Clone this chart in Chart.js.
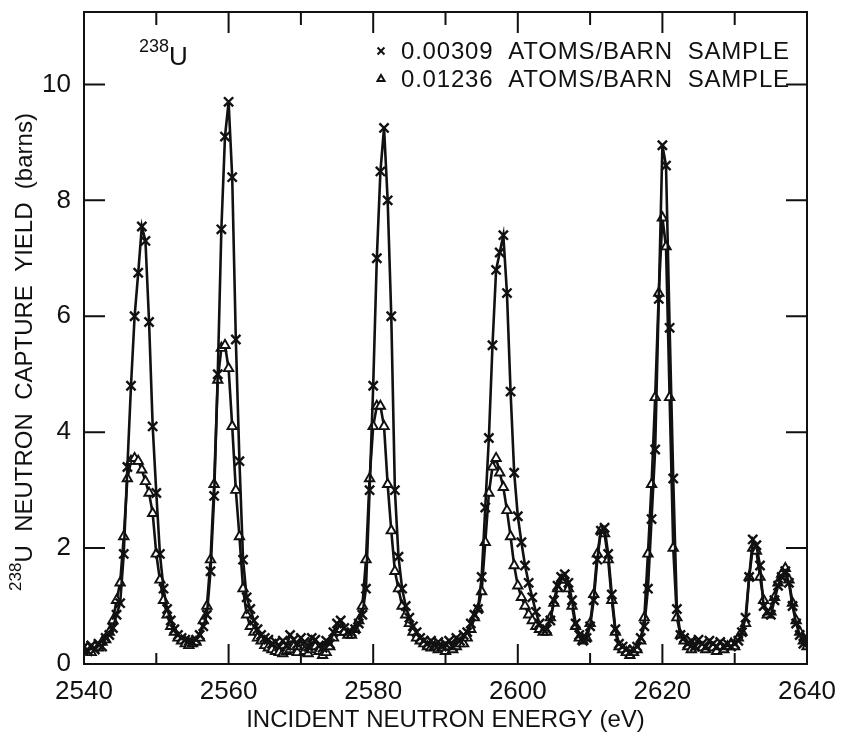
<!DOCTYPE html>
<html><head><meta charset="utf-8">
<script src="https://cdn.jsdelivr.net/npm/chart.js@4/dist/chart.umd.min.js"></script>
<style>html,body{margin:0;padding:0;background:#fff}canvas{display:block}</style>
</head><body>
<canvas id="c" width="841" height="735"></canvas>
<script>
// ---- data ----
const energies = [
2540,2540.5,2541,2541.5,2542,2542.5,2543,2543.5,2544,2544.5,2545,2545.5,2546,2546.5,2547,2547.5,2548,2548.5,2549,2549.5,
2550,2550.5,2551,2551.5,2552,2552.5,2553,2553.5,2554,2554.5,2555,2555.5,2556,2556.5,2557,2557.5,2558,2558.5,2559,2559.5,
2560,2560.5,2561,2561.5,2562,2562.5,2563,2563.5,2564,2564.5,2565,2565.5,2566,2566.5,2567,2567.5,2568,2568.5,2569,2569.5,
2570,2570.5,2571,2571.5,2572,2572.5,2573,2573.5,2574,2574.5,2575,2575.5,2576,2576.5,2577,2577.5,2578,2578.5,2579,2579.5,
2580,2580.5,2581,2581.5,2582,2582.5,2583,2583.5,2584,2584.5,2585,2585.5,2586,2586.5,2587,2587.5,2588,2588.5,2589,2589.5,
2590,2590.5,2591,2591.5,2592,2592.5,2593,2593.5,2594,2594.5,2595,2595.5,2596,2596.5,2597,2597.5,2598,2598.5,2599,2599.5,
2600,2600.5,2601,2601.5,2602,2602.5,2603,2603.5,2604,2604.5,2605,2605.5,2606,2606.5,2607,2607.5,2608,2608.5,2609,2609.5,
2610,2610.5,2611,2611.5,2612,2612.5,2613,2613.5,2614,2614.5,2615,2615.5,2616,2616.5,2617,2617.5,2618,2618.5,2619,2619.5,
2620,2620.5,2621,2621.5,2622,2622.5,2623,2623.5,2624,2624.5,2625,2625.5,2626,2626.5,2627,2627.5,2628,2628.5,2629,2629.5,
2630,2630.5,2631,2631.5,2632,2632.5,2633,2633.5,2634,2634.5,2635,2635.5,2636,2636.5,2637,2637.5,2638,2638.5,2639,2639.5,2640
];
// 0.00309 atoms/barn sample (x markers)
const thinYield = [
.30,.22,.32,.25,.35,.30,.45,.50,.62,.85,1.05,1.90,3.40,4.80,6.00,6.75,7.55,7.30,5.90,4.10,
2.95,1.90,1.30,.95,.75,.60,.50,.45,.42,.40,.38,.42,.50,.65,.85,1.60,2.90,5.00,7.50,9.10,
9.70,8.40,5.60,3.50,1.80,1.15,.95,.75,.60,.50,.45,.42,.35,.38,.30,.40,.32,.50,.42,.35,
.45,.38,.30,.45,.42,.32,.28,.40,.35,.55,.70,.75,.62,.55,.55,.60,.70,.85,1.30,3.00,
4.80,7.00,8.50,9.25,8.00,6.00,3.00,1.85,1.30,1.00,.80,.65,.55,.45,.40,.35,.40,.32,.38,.30,
.35,.40,.30,.45,.40,.50,.55,.70,.85,.95,1.50,2.70,3.90,5.50,6.80,7.10,7.40,6.40,4.70,3.30,
2.55,2.10,1.70,1.40,1.15,.90,.70,.60,.60,.75,1.10,1.35,1.50,1.55,1.40,1.10,.70,.50,.40,.45,
.65,1.10,1.80,2.30,2.35,1.90,1.20,.60,.35,.30,.25,.20,.25,.30,.45,.65,1.30,2.50,3.70,6.30,
8.95,8.60,5.80,3.20,.95,.50,.45,.35,.40,.30,.42,.35,.30,.40,.35,.30,.38,.30,.35,.30,
.35,.40,.55,.80,1.50,2.15,2.05,1.70,1.00,.90,.85,1.10,1.35,1.50,1.60,1.40,1.00,.70,.50,.35,.45
];
// 0.01236 atoms/barn sample (triangle markers)
const thickYield = [
.25,.28,.20,.30,.28,.38,.42,.55,.75,1.10,1.40,2.20,3.20,3.50,3.55,3.50,3.35,3.15,2.95,2.60,
1.90,1.45,1.10,.85,.65,.55,.45,.40,.35,.32,.35,.38,.45,.75,1.00,1.80,3.10,4.90,5.45,5.50,
5.10,4.10,3.00,2.20,1.30,.85,.65,.55,.45,.40,.32,.28,.25,.22,.20,.18,.22,.25,.30,.20,
.30,.22,.18,.25,.30,.22,.15,.20,.30,.45,.55,.60,.55,.50,.50,.60,.75,1.00,1.80,3.20,
4.10,4.45,4.45,4.10,3.10,2.30,1.60,1.30,1.00,.85,.70,.55,.45,.40,.35,.30,.28,.30,.25,.28,
.22,.30,.25,.30,.35,.35,.45,.60,.80,.95,1.25,2.10,2.95,3.40,3.55,3.30,3.05,2.65,2.20,1.70,
1.35,1.15,1.00,.85,.75,.65,.60,.55,.55,.80,1.05,1.30,1.45,1.45,1.30,1.00,.65,.45,.40,.45,
.70,1.20,1.90,2.30,2.25,1.80,1.10,.55,.30,.25,.20,.15,.20,.25,.40,.80,1.90,3.10,4.60,6.40,
7.70,7.20,4.60,2.00,.80,.50,.40,.30,.25,.35,.30,.28,.25,.30,.28,.22,.30,.25,.30,.35,
.30,.45,.55,.70,1.50,2.00,1.95,1.50,1.10,.85,.90,1.15,1.40,1.55,1.65,1.45,1.05,.75,.55,.40,.30
];
const seriesLabels = ['0.00309  ATOMS/BARN  SAMPLE', '0.01236  ATOMS/BARN  SAMPLE'];
const xMajorTicks = [2540, 2560, 2580, 2600, 2620, 2640];
const xMinorTicks = [2550, 2570, 2590, 2610, 2630];
const yMajorTicks = [0, 2, 4, 6, 8, 10];
const xTitle = 'INCIDENT NEUTRON ENERGY (eV)';
const yTitleParts = ['238', 'U  NEUTRON  CAPTURE  YIELD  (barns)'];
const isotopeParts = ['238', 'U'];

// ---- chart ----
const FONT = '"Liberation Sans", Arial, sans-serif';
const INK = '#111';
Chart.defaults.font.family = FONT;
Chart.defaults.color = INK;

const toPoints = ys => energies.map((e, i) => ({ x: e, y: ys[i] }));

const markerStyles = [
  { pointStyle: 'crossRot', radius: 6.5, borderWidth: 2.4, fill: INK },
  { pointStyle: 'triangle', radius: 5.4, borderWidth: 1.9, fill: '#fff' }
];

const decorPlugin = {
  id: 'decor',
  afterDraw(chart) {
    const { ctx, chartArea: a, scales: { x, y } } = chart;
    ctx.save();
    ctx.strokeStyle = INK;
    ctx.lineWidth = 2;
    ctx.strokeRect(a.left, a.top, a.right - a.left, a.bottom - a.top);
    ctx.beginPath();
    xMajorTicks.forEach(v => {
      const px = x.getPixelForValue(v);
      ctx.moveTo(px, a.bottom); ctx.lineTo(px, a.bottom - 20);
      ctx.moveTo(px, a.top); ctx.lineTo(px, a.top + 21);
    });
    xMinorTicks.forEach(v => {
      const px = x.getPixelForValue(v);
      ctx.moveTo(px, a.bottom); ctx.lineTo(px, a.bottom - 11);
      ctx.moveTo(px, a.top); ctx.lineTo(px, a.top + 13);
    });
    yMajorTicks.forEach(v => {
      const py = y.getPixelForValue(v);
      ctx.moveTo(a.left, py); ctx.lineTo(a.left + 21, py);
      ctx.moveTo(a.right, py); ctx.lineTo(a.right - 21, py);
    });
    ctx.stroke();

    ctx.fillStyle = INK;
    ctx.textBaseline = 'alphabetic';
    ctx.textAlign = 'left';
    // isotope label
    ctx.font = '18px ' + FONT;
    ctx.fillText(isotopeParts[0], 139, 52);
    const wi = ctx.measureText(isotopeParts[0]).width;
    ctx.font = '26px ' + FONT;
    ctx.fillText(isotopeParts[1], 139 + wi, 65);

    // legend
    ctx.font = '24px ' + FONT;
    seriesLabels.forEach((lab, i) => {
      const ly = 59 + i * 28;
      const m = markerStyles[i];
      ctx.save();
      ctx.strokeStyle = INK; ctx.fillStyle = m.fill;
      Chart.helpers.drawPoint(ctx, { pointStyle: m.pointStyle, radius: m.radius * 0.75, rotation: 0, borderWidth: m.borderWidth * 0.8 }, 381, ly - 8);
      ctx.restore();
      ctx.save();
      ctx.fillStyle = INK;
      try { ctx.letterSpacing = '0.8px'; } catch (e) {}
      ctx.fillText(lab, 401, ly);
      ctx.restore();
    });

    // y axis title with superscript
    ctx.translate(32, 352);
    ctx.rotate(-Math.PI / 2);
    ctx.font = '17px ' + FONT;
    const w1 = ctx.measureText(yTitleParts[0]).width;
    ctx.font = '24px ' + FONT;
    const w2 = ctx.measureText(yTitleParts[1]).width;
    const sx = -(w1 + w2) / 2;
    ctx.font = '17px ' + FONT;
    ctx.fillText(yTitleParts[0], sx, -11);
    ctx.font = '24px ' + FONT;
    ctx.fillText(yTitleParts[1], sx + w1, 0);
    ctx.restore();
  }
};

new Chart(document.getElementById('c'), {
  type: 'line',
  data: {
    datasets: [
      {
        label: seriesLabels[0],
        data: toPoints(thinYield),
        borderColor: INK, borderWidth: 2.6, tension: 0,
        pointStyle: markerStyles[0].pointStyle, pointRadius: markerStyles[0].radius,
        pointBorderWidth: markerStyles[0].borderWidth, pointBorderColor: INK, pointBackgroundColor: INK
      },
      {
        label: seriesLabels[1],
        data: toPoints(thickYield),
        borderColor: INK, borderWidth: 2.6, tension: 0,
        pointStyle: markerStyles[1].pointStyle, pointRadius: markerStyles[1].radius,
        pointBorderWidth: markerStyles[1].borderWidth, pointBorderColor: INK, pointBackgroundColor: '#fff'
      }
    ]
  },
  options: {
    responsive: false,
    animation: false,
    devicePixelRatio: 1,
    layout: { padding: { left: 0, right: 34, top: 12, bottom: 0 } },
    plugins: { legend: { display: false }, tooltip: { enabled: false } },
    scales: {
      x: {
        type: 'linear', position: 'bottom', min: 2540, max: 2640,
        grid: { display: false, drawTicks: false }, border: { display: false },
        ticks: { stepSize: 20, padding: 12, maxRotation: 0, autoSkip: false, font: { size: 26 }, color: INK,
                 callback: v => String(v) },
        afterBuildTicks: s => { s.ticks = xMajorTicks.map(v => ({ value: v })); },
        title: { display: true, text: xTitle, font: { size: 24 }, color: INK, padding: { top: 0, bottom: 0 } },
        afterFit: s => { s.height = 71; s.paddingLeft = 0; s.paddingRight = 0; }
      },
      y: {
        type: 'linear', position: 'left', min: 0, max: 11.25,
        grid: { display: false, drawTicks: false }, border: { display: false },
        ticks: { stepSize: 2, padding: 13, includeBounds: false, font: { size: 26 }, color: INK,
                 callback: v => String(v) },
        afterBuildTicks: s => { s.ticks = yMajorTicks.map(v => ({ value: v })); },
        afterFit: s => { s.width = 84; s.paddingTop = 0; s.paddingBottom = 0; }
      }
    }
  },
  plugins: [decorPlugin]
});
</script>
</body></html>
